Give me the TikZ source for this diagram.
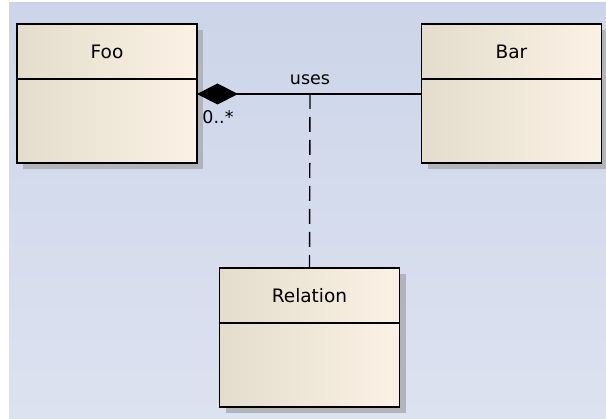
\documentclass[tikz,border=0pt]{standalone}
\usepackage{fontspec}
\setmainfont{DejaVu Sans}
\usetikzlibrary{arrows.meta,positioning,shadows}
\definecolor{bgtop}{RGB}{204,213,233}
\definecolor{bgbottom}{RGB}{221,226,240}
\definecolor{boxleft}{RGB}{228,220,204}
\definecolor{boxright}{RGB}{251,242,229}
\definecolor{shadowgray}{RGB}{178,180,188}
\tikzstyle{classhead}=[draw, line width=1.8pt, outer sep=0pt, inner sep=0pt,
    minimum width=180pt, minimum height=55pt,
    left color=boxleft, right color=boxright,
    font=\fontsize{18.5}{22}\selectfont,
    drop shadow={shadow xshift=6pt, shadow yshift=-6pt, fill=shadowgray, opacity=1}]
\tikzstyle{classbody}=[classhead, minimum height=84pt]
\tikzstyle{linktext}=[inner sep=0pt, font=\fontsize{17.5}{20}\selectfont]
\newcommand{\classhead}{\node[classhead]}
\newcommand{\classbody}{\node[classbody]}

\begin{document}
\begin{tikzpicture}[x=1pt, y=-1pt]
\useasboundingbox (0,0) rectangle (606,419);
\shade[top color=bgtop, bottom color=bgbottom] (9,3) rectangle (606,419);
% classes
\classhead (foo) at (107,51.5) {Foo};
\classbody (foobody) [below=0pt of foo] {};
\classhead (bar) at (511.5,51.5) {Bar};
\classbody (barbody) [below=0pt of bar] {};
\classhead (relation) at (309.5,295.5) {Relation};
\classbody (relationbody) [below=0pt of relation] {};
% association
\coordinate (link) at (310,94);
\draw[line width=1.4pt, {Diamond[length=41pt,width=21pt]}-]
    (link -| foobody.east) -- (link -| barbody.west);
\draw[line width=1.4pt, dash pattern=on 15pt off 8pt] (link) -- (relation.north);
\node[linktext] (uses) at (310,80) {uses};
\node[linktext] (mult) at (218,117) {0..*};
\end{tikzpicture}
\end{document}
